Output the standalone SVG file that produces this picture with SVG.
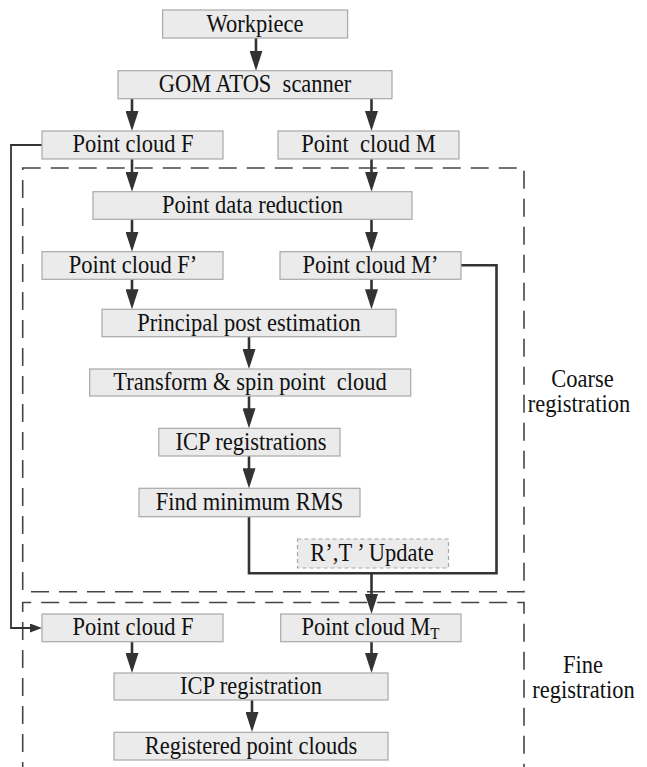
<svg xmlns="http://www.w3.org/2000/svg" width="647" height="767" viewBox="0 0 647 767">
  <style>
    .box { fill: #ebebeb; stroke: #a8a8a8; stroke-width: 1.2; }
    .box-dash { fill: #ebebeb; stroke: #a8a8a8; stroke-width: 1.2; stroke-dasharray: 4 3; }
    text { font-family: "Liberation Serif", "Times New Roman", serif; font-size: 22.5px; fill: #111; text-anchor: middle; }
    .conn { fill: none; stroke: #333; stroke-width: 2.6; }
    .conn-thin { fill: none; stroke: #333; stroke-width: 1.8; }
    .frame { fill: none; stroke: #444; stroke-width: 1.6; stroke-dasharray: 18 10; }
  </style>
  <defs>
    <marker id="arrow" markerUnits="userSpaceOnUse" markerWidth="20" markerHeight="13" viewBox="0 0 20 13" refX="15" refY="6.5" orient="auto">
      <path d="M0,0 L20,6.5 L0,13 Z" fill="#333"/>
    </marker>
    <marker id="arrow-small" markerUnits="userSpaceOnUse" markerWidth="12" markerHeight="9" viewBox="0 0 12 9" refX="9" refY="4.5" orient="auto">
      <path d="M0,0 L12,4.5 L0,9 Z" fill="#333"/>
    </marker>
  </defs>

  <!-- stage frames -->
  <g id="frames">
    <rect class="frame" x="22.7" y="168" width="501.3" height="423.7"/>
    <path class="frame" d="M22.7,780 V602.5 H524 V780"/>
  </g>

  <!-- connectors -->
  <g id="connectors">
    <path class="conn" d="M256,38 V65.7" marker-end="url(#arrow)"/>
    <path class="conn" d="M132,98.7 V126" marker-end="url(#arrow)"/>
    <path class="conn" d="M371.5,98.7 V126" marker-end="url(#arrow)"/>
    <path class="conn" d="M132,159 V186.7" marker-end="url(#arrow)"/>
    <path class="conn" d="M371.5,159 V186.7" marker-end="url(#arrow)"/>
    <path class="conn" d="M132,219.3 V246.7" marker-end="url(#arrow)"/>
    <path class="conn" d="M371.5,219.3 V246.7" marker-end="url(#arrow)"/>
    <path class="conn" d="M132,279.3 V304.3" marker-end="url(#arrow)"/>
    <path class="conn" d="M371.5,279.3 V304.3" marker-end="url(#arrow)"/>
    <path class="conn" d="M249,336.7 V364" marker-end="url(#arrow)"/>
    <path class="conn" d="M249,396 V423.3" marker-end="url(#arrow)"/>
    <path class="conn" d="M249,456 V483.3" marker-end="url(#arrow)"/>
    <path class="conn" d="M461,265.3 H496.5 V573.3 H249 V516.7"/>
    <path class="conn" d="M371.5,573.3 V609" marker-end="url(#arrow)"/>
    <path class="conn-thin" d="M42,145 H11 V628 H39" marker-end="url(#arrow-small)"/>
    <path class="conn" d="M132,641.7 V668" marker-end="url(#arrow)"/>
    <path class="conn" d="M371.5,641.7 V668" marker-end="url(#arrow)"/>
    <path class="conn" d="M252,700 V727" marker-end="url(#arrow)"/>
  </g>

  <!-- nodes (labels are drawn slightly tall: scale(1,1.08) about the baseline) -->
  <g id="workpiece">
    <rect class="box" x="162.6" y="10" width="185" height="28"/>
    <text transform="translate(255,31.5) scale(1,1.08)">Workpiece</text>
  </g>
  <g id="scanner">
    <rect class="box" x="118" y="70.7" width="274" height="28"/>
    <text transform="translate(255,92) scale(1,1.08)" xml:space="preserve">GOM ATOS  scanner</text>
  </g>
  <g id="cloud-f">
    <rect class="box" x="42" y="131" width="181" height="28"/>
    <text transform="translate(133,152.3) scale(1,1.08)">Point cloud F</text>
  </g>
  <g id="cloud-m">
    <rect class="box" x="278" y="131" width="181" height="28"/>
    <text transform="translate(368.5,152.3) scale(1,1.08)" xml:space="preserve">Point  cloud M</text>
  </g>
  <g id="data-reduction">
    <rect class="box" x="93" y="191.7" width="319" height="27.6"/>
    <text transform="translate(252.5,213) scale(1,1.08)">Point data reduction</text>
  </g>
  <g id="cloud-f-prime">
    <rect class="box" x="42" y="251.7" width="181" height="27.6"/>
    <text transform="translate(133,273) scale(1,1.08)">Point cloud F’</text>
  </g>
  <g id="cloud-m-prime">
    <rect class="box" x="280" y="251.7" width="181" height="27.6"/>
    <text transform="translate(370.5,273) scale(1,1.08)">Point cloud M’</text>
  </g>
  <g id="pose-estimation">
    <rect class="box" x="102" y="309.3" width="294" height="27.4"/>
    <text transform="translate(249,330.5) scale(1,1.08)">Principal post estimation</text>
  </g>
  <g id="transform-spin">
    <rect class="box" x="89.7" y="369" width="321" height="27"/>
    <text transform="translate(250,390) scale(1,1.08)" xml:space="preserve">Transform &amp; spin point  cloud</text>
  </g>
  <g id="icp-registrations">
    <rect class="box" x="158.8" y="428.3" width="181.2" height="27.7"/>
    <text transform="translate(251,449.5) scale(1,1.08)">ICP registrations</text>
  </g>
  <g id="min-rms">
    <rect class="box" x="139" y="488.3" width="221" height="28.4"/>
    <text transform="translate(249.5,509.8) scale(1,1.08)">Find minimum RMS</text>
  </g>
  <g id="rt-update">
    <rect class="box-dash" x="297.5" y="539" width="151" height="29"/>
    <text transform="translate(372,561.3) scale(1,1.08)">R’,T ’ Update</text>
  </g>
  <g id="fine-cloud-f">
    <rect class="box" x="42" y="614" width="181" height="27.7"/>
    <text transform="translate(133,635.3) scale(1,1.08)">Point cloud F</text>
  </g>
  <g id="cloud-mt">
    <rect class="box" x="280.7" y="614" width="180.3" height="27.7"/>
    <text transform="translate(370.5,635.3) scale(1,1.08)">Point cloud M<tspan font-size="15" dy="3">T</tspan></text>
  </g>
  <g id="icp-registration">
    <rect class="box" x="114" y="673" width="274" height="27"/>
    <text transform="translate(251,694) scale(1,1.08)">ICP registration</text>
  </g>
  <g id="registered">
    <rect class="box" x="114" y="732.3" width="274" height="27.7"/>
    <text transform="translate(251,753.6) scale(1,1.08)">Registered point clouds</text>
  </g>

  <!-- stage labels -->
  <g id="stage-labels">
    <text transform="translate(582.5,386.5) scale(1,1.08)">Coarse</text>
    <text transform="translate(579,412) scale(1,1.08)">registration</text>
    <text transform="translate(583,673) scale(1,1.08)">Fine</text>
    <text transform="translate(583.5,698) scale(1,1.08)">registration</text>
  </g>
</svg>
